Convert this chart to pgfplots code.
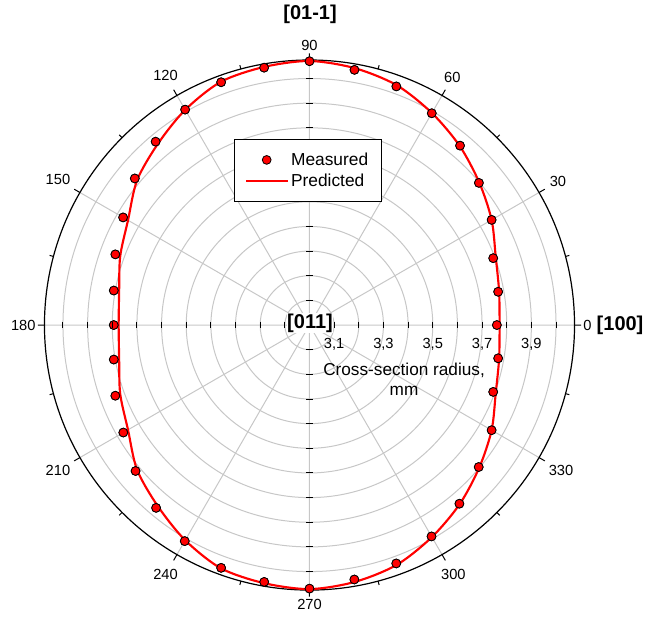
\documentclass[border=0pt]{standalone}
\usepackage{fontspec}
\setmainfont{Liberation Sans}
\usepackage{pgfplots}
\pgfplotsset{compat=1.18}
\usepgfplotslibrary{polar}
\begin{document}
\begin{tikzpicture}
\useasboundingbox (-232.1pt,-219.75pt) rectangle (254.6pt,243.75pt);
\begin{polaraxis}[
  at={(0pt,0pt)}, anchor=center,
  width=397.5pt, height=397.5pt, scale only axis,
  xmin=0, xmax=360, ymin=3, ymax=4.075,
  y coord trafo/.code={\pgfmathparse{#1-3}},
  y coord inv trafo/.code={\pgfmathparse{#1+3}},
  xtick={0,30,...,330}, minor xtick={15,45,...,345},
  ytick={3.1,3.2,3.3,3.4,3.5,3.6,3.7,3.8,3.9,4.0},
  yticklabels={{3,1},{},{3,3},{},{3,5},{},{3,7},{},{3,9},{}},
  /pgf/number format/assume math mode=true,
  xticklabel style={font=\fontsize{11}{13}\selectfont, inner sep=6.5pt},
  yticklabel style={font=\fontsize{11}{13}\selectfont, anchor=north, yshift=-6.5pt, xshift=0pt},
  ytick style={draw=none},
  y axis line style={draw=none},
  grid=major,
  major grid style={draw=black!22, line width=0.75pt},
  axis line style={black, line width=0.9pt},
  tick style={black, line width=0.75pt},
  major tick length=5pt, minor tick length=3pt,
  legend style={at={(axis description cs:0.497,0.7915)}, anchor=center,
    draw=black, line width=0.6pt, font=\fontsize{13}{15}\selectfont,
    row sep=1pt, inner xsep=8pt, inner ysep=8pt},
  legend cell align=left,
  legend image code/.code={\draw[mark repeat=2,mark phase=2,#1] plot coordinates {(0pt,0pt) (15.5pt,0pt) (31pt,0pt)};},
]
\addplot[only marks, mark=*, mark size=3.3pt, mark options={fill=red, draw=black, line width=0.6pt}] coordinates {
(0,3.760) (10,3.777) (20,3.793) (30,3.853) (40,3.897) (50,3.950) (60,3.992) (70,4.030) (80,4.051)
(90,4.070) (100,4.060) (110,4.048) (120,4.009) (130,3.971) (140,3.925) (150,3.873) (160,3.838) (170,3.806)
(180,3.794) (190,3.806) (200,3.838) (210,3.872) (220,3.921) (230,3.968) (240,4.012) (250,4.048) (260,4.058)
(270,4.069) (280,4.048) (290,4.029) (300,3.990) (310,3.946) (320,3.896) (330,3.853) (340,3.793) (350,3.777)};
\addlegendentry{Measured}
\addplot[red, line width=1.6pt, smooth] coordinates {
(0,3.771) (10,3.781) (20,3.804) (30,3.853) (40,3.899) (50,3.948) (60,3.993) (70,4.035) (80,4.058)
(90,4.071) (100,4.063) (110,4.050) (120,4.008) (130,3.958) (140,3.913) (150,3.850) (160,3.817) (170,3.784)
(180,3.774) (190,3.784) (200,3.817) (210,3.850) (220,3.913) (230,3.958) (240,4.008) (250,4.050) (260,4.063)
(270,4.071) (280,4.058) (290,4.035) (300,3.993) (310,3.948) (320,3.899) (330,3.853) (340,3.804) (350,3.781) (360,3.771)};
\addlegendentry{Predicted}
\addplot[only marks, mark=*, mark size=3.3pt, mark options={fill=red, draw=black, line width=0.6pt}, forget plot] coordinates {
(0,3.760) (10,3.777) (20,3.793) (30,3.853) (40,3.897) (50,3.950) (60,3.992) (70,4.030) (80,4.051)
(90,4.070) (100,4.060) (110,4.048) (120,4.009) (130,3.971) (140,3.925) (150,3.873) (160,3.838) (170,3.806)
(180,3.794) (190,3.806) (200,3.838) (210,3.872) (220,3.921) (230,3.968) (240,4.012) (250,4.048) (260,4.058)
(270,4.069) (280,4.048) (290,4.029) (300,3.990) (310,3.946) (320,3.896) (330,3.853) (340,3.793) (350,3.777)};
\addplot[only marks, mark=|, mark size=2.5pt, black, line width=0.75pt, forget plot] coordinates {
(0,3.1) (0,3.2) (0,3.3) (0,3.4) (0,3.5) (0,3.6) (0,3.7) (0,3.8) (0,3.9) (0,4.0)
(180,3.1) (180,3.2) (180,3.3) (180,3.4) (180,3.5) (180,3.6) (180,3.7) (180,3.8) (180,3.9) (180,4.0)};
\addplot[only marks, mark=-, mark size=2.5pt, black, line width=0.75pt, forget plot] coordinates {
(90,3.1) (90,3.2) (90,3.3) (90,3.4) (90,3.5) (90,3.6) (90,3.7) (90,3.8) (90,3.9) (90,4.0)
(270,3.1) (270,3.2) (270,3.3) (270,3.4) (270,3.5) (270,3.6) (270,3.7) (270,3.8) (270,3.9) (270,4.0)};
\end{polaraxis}
\node[font=\bfseries\fontsize{15}{18}\selectfont, fill=white, inner sep=0.5pt] at (0.4pt,1.5pt) {[011]};
\node[font=\bfseries\fontsize{15}{18}\selectfont] at (0.4pt,233.25pt) {[01-1]};
\node[font=\bfseries\fontsize{15}{18}\selectfont] at (232.9pt,0pt) {[100]};
\node[font=\fontsize{12.9}{15}\selectfont, align=center] at (70.9pt,-40.9pt) {Cross-section radius,\\mm};
\end{tikzpicture}
\end{document}
